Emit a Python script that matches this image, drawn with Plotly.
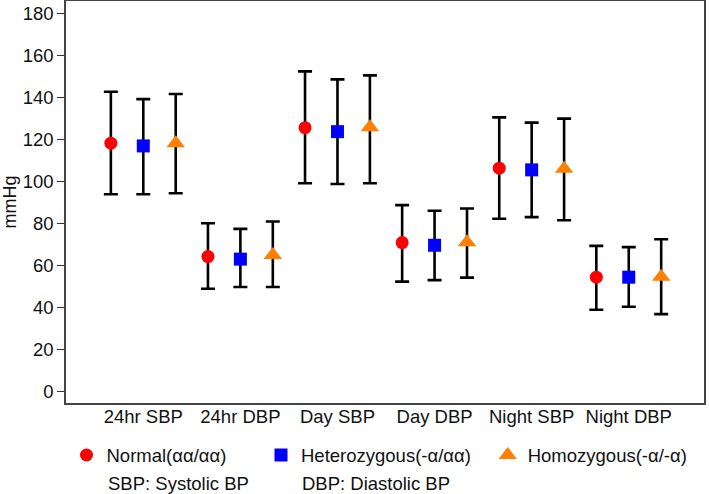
import plotly.graph_objects as go

categories = ["24hr SBP", "24hr DBP", "Day SBP", "Day DBP", "Night SBP", "Night DBP"]

normal_mean = [118.2, 64.2, 125.6, 70.9, 106.3, 54.4]
normal_upper = [142.7, 80.1, 152.4, 88.7, 130.5, 69.3]
normal_lower = [93.9, 48.9, 99.1, 52.3, 82.2, 38.9]

hetero_mean = [116.9, 63.0, 123.7, 69.6, 105.5, 54.4]
hetero_upper = [139.2, 77.4, 148.6, 86.0, 128.0, 68.7]
hetero_lower = [93.9, 49.7, 98.8, 53.0, 83.0, 40.3]

homo_mean = [118.2, 65.0, 125.8, 71.0, 106.0, 54.6]
homo_upper = [141.6, 80.9, 150.5, 87.1, 129.9, 72.5]
homo_lower = [94.4, 49.7, 99.1, 54.2, 81.5, 36.8]

y_ticks = [0, 20, 40, 60, 80, 100, 120, 140, 160, 180]

names = ["Normal(αα/αα)", "Heterozygous(-α/αα)", "Homozygous(-α/-α)"]

series = [
    (names[0], normal_mean, normal_upper, normal_lower, -0.334, "circle", "#FF0000", 13),
    (names[1], hetero_mean, hetero_upper, hetero_lower, 0.0, "square", "#0000FF", 13),
    (names[2], homo_mean, homo_upper, homo_lower, 0.334, "triangle-up", "#FF8000", 16),
]

legend_names = ["legend", "legend2", "legend3"]
legend_x_px = [66.5, 261.0, 487.7]

fig = go.Figure()
base = list(range(1, len(categories) + 1))
for i, (name, mean, up, lo, off, sym, col, sz) in enumerate(series):
    xs = [b + off for b in base]
    fig.add_trace(go.Scatter(
        x=xs, y=mean, mode="markers", name=name,
        marker=dict(symbol=sym, color=col, size=sz, line=dict(width=0)),
        error_y=dict(type="data", symmetric=False,
                     array=[u - m for u, m in zip(up, mean)],
                     arrayminus=[m - l for m, l in zip(mean, lo)],
                     color="black", thickness=2.6, width=7),
        legend=legend_names[i],
    ))

W, H = 709, 494
L, R, T, B = 66, 5, 1, 91
pw = W - L - R
ph = H - T - B

def px_to_paper_x(px):
    return (px - L) / pw

def py_to_paper_y(py):
    return (H - B - py) / ph

FAM = "Liberation Sans, Arial, Helvetica, sans-serif"
font = dict(family=FAM, size=18.5, color="#111111")

layout_legends = {}
for i, ln in enumerate(legend_names):
    layout_legends[ln] = dict(
        x=px_to_paper_x(legend_x_px[i]), y=py_to_paper_y(455.5),
        xanchor="left", yanchor="middle", orientation="h",
        font=font, bgcolor="rgba(0,0,0,0)", borderwidth=0,
        itemwidth=30, tracegroupgap=0,
    )

fig.update_layout(
    width=W, height=H,
    margin=dict(l=L, r=R, t=T, b=B, autoexpand=False),
    plot_bgcolor="white", paper_bgcolor="white",
    font=font,
    showlegend=True,
    **layout_legends,
    xaxis=dict(
        range=[0.204, 6.775], tickvals=base, ticktext=categories,
        showgrid=False, zeroline=False, showline=True, linecolor="#444444",
        linewidth=1.5, mirror=True, ticks="", tickfont=font, automargin=False,
        ticklabelstandoff=-4,
    ),
    yaxis=dict(
        range=[-5.5, 185.9], tickvals=y_ticks,
        showgrid=False, zeroline=False, showline=True, linecolor="#444444",
        linewidth=1.5, mirror=True, ticks="outside", ticklen=7, tickwidth=1.3,
        tickcolor="#333333", tickfont=font, automargin=False,
        title=dict(text="mmHg", font=dict(family=FAM, size=18, color="#111111"), standoff=4),
    ),
    annotations=[
        dict(text="SBP: Systolic BP", x=px_to_paper_x(106), y=py_to_paper_y(483),
             xref="paper", yref="paper", xanchor="left", yanchor="middle",
             showarrow=False, font=font),
        dict(text="DBP: Diastolic BP", x=px_to_paper_x(300), y=py_to_paper_y(483),
             xref="paper", yref="paper", xanchor="left", yanchor="middle",
             showarrow=False, font=font),
    ],
)

fig.write_html("out.html", config={"displayModeBar": False},
               post_script="document.body.style.margin='0';document.body.style.padding='0';")
